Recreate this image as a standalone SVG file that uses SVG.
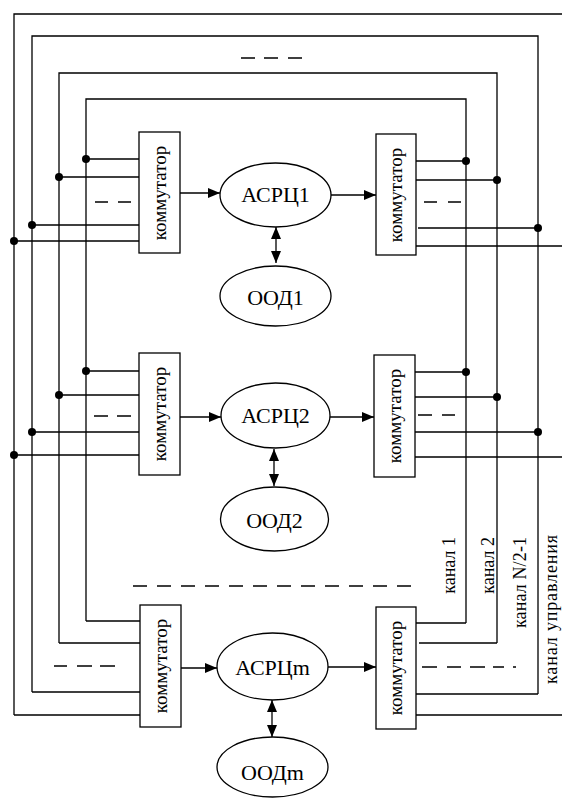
<svg xmlns="http://www.w3.org/2000/svg" width="562" height="798" viewBox="0 0 562 798">
<style>
.ln{fill:none;stroke:#000;stroke-width:1.3}
.box{fill:#fff;stroke:#000;stroke-width:1.3}
.el{fill:#fff;stroke:#000;stroke-width:1.3}
.dot{fill:#000}
.dash{fill:none;stroke:#000;stroke-width:1.3}
.t{font-family:"Liberation Serif","Times New Roman",serif;fill:#000}
.big{font-size:22px;text-anchor:middle}
.kom{font-size:19px;text-anchor:middle}
.ch{font-size:18px;text-anchor:end}
.arr{fill:none;stroke:#000;stroke-width:1.3;marker-end:url(#ah)}
.darr{fill:none;stroke:#000;stroke-width:1.3;marker-end:url(#ah);marker-start:url(#ah)}
</style>
<defs>
<marker id="ah" markerUnits="userSpaceOnUse" viewBox="0 0 12 10" markerWidth="12" markerHeight="10" refX="12" refY="5" orient="auto-start-reverse">
<path d="M0,0 L12,5 L0,10 z" fill="#000"/>
</marker>
</defs>
<rect width="562" height="798" fill="#fff"/>

<g id="connectors">
<path class="ln" d="M14,715 V14 H562"/>
<path class="ln" d="M32,692 V36 H538 V694"/>
<path class="ln" d="M59,643 V73 H497 V643"/>
<path class="ln" d="M86,621 V99 H466 V623"/>
<path class="ln" d="M86,159 H139 M59,177 H139 M32,225 H139 M14,241 H139"/>
<path class="ln" d="M416,161 H466 M416,180 H497 M418,228 H538 M416,246 H562"/>
<path class="ln" d="M86,371 H139 M59,395 H139 M32,432 H139 M14,455 H139"/>
<path class="ln" d="M415,372 H466 M415,397 H497 M415,432 H538 M415,457 H562"/>
<path class="ln" d="M86,621 H140 M59,643 H140 M32,692 H140 M14,715 H140"/>
<path class="ln" d="M416,623 H466 M419,643 H497 M416,694 H538 M416,715 H562"/>
<g class="dot">
<circle cx="86" cy="159" r="4"/><circle cx="59" cy="177" r="4"/><circle cx="32" cy="225" r="4"/><circle cx="14" cy="241" r="4"/>
<circle cx="466" cy="161" r="4"/><circle cx="497" cy="180" r="4"/><circle cx="538" cy="228" r="4"/>
<circle cx="86" cy="371" r="4"/><circle cx="59" cy="395" r="4"/><circle cx="32" cy="432" r="4"/><circle cx="14" cy="455" r="4"/>
<circle cx="466" cy="372" r="4"/><circle cx="497" cy="397" r="4"/><circle cx="538" cy="432" r="4"/>
</g>
<path class="dash" d="M241,58 H255 M264,58 H278 M288,58 H302"/>
<path class="dash" d="M95,202 H108 M118,202 H131"/>
<path class="dash" d="M424,202 H437 M448,202 H461"/>
<path class="dash" d="M94,416 H108 M117,416 H131"/>
<path class="dash" d="M418,415 H432 M442,415 H455"/>
<path class="dash" d="M54,666 H67 M77,666 H92 M100,666 H115"/>
<path class="dash" d="M422,667 H437 M447,667 H461 M470,667 H485 M493,667 H504 M513,667 H516"/>
<path class="dash" d="M133,586 H415" stroke-dasharray="14 10"/>
<path class="arr" d="M180,193 H220"/>
<path class="arr" d="M331,195 H376"/>
<path class="darr" d="M276,227 V263"/>
<path class="arr" d="M180,417 H221"/>
<path class="arr" d="M330,417 H374"/>
<path class="darr" d="M274,449 V486"/>
<path class="arr" d="M181,668 H217"/>
<path class="arr" d="M328,667 H376"/>
<path class="darr" d="M272,700 V737"/>
</g>

<g id="kom-L1"><rect class="box" x="139" y="132" width="41" height="121"/><text class="t kom" transform="translate(166,193) rotate(-90)">коммутатор</text></g>
<g id="kom-R1"><rect class="box" x="376" y="134" width="40" height="121"/><text class="t kom" transform="translate(402,195) rotate(-90)">коммутатор</text></g>
<g id="kom-L2"><rect class="box" x="139" y="353" width="41" height="122"/><text class="t kom" transform="translate(166,414) rotate(-90)">коммутатор</text></g>
<g id="kom-R2"><rect class="box" x="374" y="355" width="41" height="122"/><text class="t kom" transform="translate(401,416) rotate(-90)">коммутатор</text></g>
<g id="kom-Lm"><rect class="box" x="140" y="605" width="41" height="122"/><text class="t kom" transform="translate(167,666) rotate(-90)">коммутатор</text></g>
<g id="kom-Rm"><rect class="box" x="376" y="607" width="40" height="122"/><text class="t kom" transform="translate(402,668) rotate(-90)">коммутатор</text></g>

<g id="asrc1"><ellipse class="el" cx="275.5" cy="195" rx="55.5" ry="32"/><text class="t big" x="275.5" y="202">АСРЦ1</text></g>
<g id="ood1"><ellipse class="el" cx="275.5" cy="296" rx="55.5" ry="30"/><text class="t big" x="275.5" y="305">ООД1</text></g>
<g id="asrc2"><ellipse class="el" cx="275.5" cy="415.5" rx="54.5" ry="32.5"/><text class="t big" x="275.5" y="423">АСРЦ2</text></g>
<g id="ood2"><ellipse class="el" cx="274.5" cy="519" rx="54" ry="32"/><text class="t big" x="274.5" y="528">ООД2</text></g>
<g id="asrcm"><ellipse class="el" cx="272.5" cy="666.5" rx="55.5" ry="33.5"/><text class="t big" x="272.5" y="675">АСРЦm</text></g>
<g id="oodm"><ellipse class="el" cx="272.5" cy="767" rx="55.5" ry="30"/><text class="t big" x="272.5" y="780">ООДm</text></g>

<g id="labels">
<text class="t ch" transform="translate(455,537) rotate(-90)">канал 1</text>
<text class="t ch" transform="translate(494,537) rotate(-90)">канал 2</text>
<text class="t ch" transform="translate(526,537) rotate(-90)" textLength="91" lengthAdjust="spacing">канал N/2-1</text>
<text class="t ch" transform="translate(557,535) rotate(-90)" textLength="149" lengthAdjust="spacing">канал управления</text>
</g>
</svg>
